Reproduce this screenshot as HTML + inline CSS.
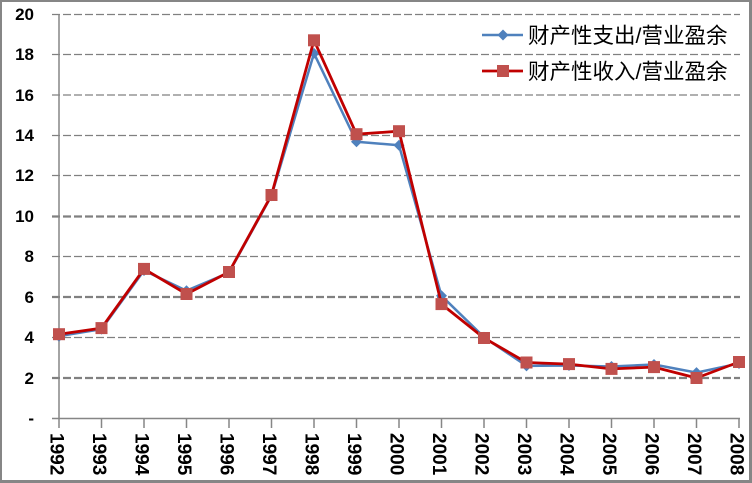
<!DOCTYPE html>
<html><head><meta charset="utf-8"><style>
html,body{margin:0;padding:0;background:#fff;}
svg{display:block;}
</style></head><body>
<svg width="752" height="483" viewBox="0 0 752 483" xmlns="http://www.w3.org/2000/svg">
<rect x="0" y="0" width="752" height="483" fill="#fff"/>
<!-- border -->
<rect x="0" y="0" width="752" height="2" fill="#868686"/>
<rect x="0" y="0" width="2" height="483" fill="#868686"/>
<rect x="749" y="0" width="3" height="483" fill="#868686"/>
<rect x="0" y="480" width="752" height="3" fill="#868686"/>

<!-- gridlines -->
<g stroke="#808080" stroke-dasharray="8,3" fill="none">
<line x1="52" y1="14.5" x2="740" y2="14.5" stroke-width="1.3"/>
<line x1="52" y1="54.5" x2="740" y2="54.5" stroke-width="1.3"/>
<line x1="52" y1="95" x2="740" y2="95" stroke-width="1.3"/>
<line x1="52" y1="135.5" x2="740" y2="135.5" stroke-width="1.3"/>
<line x1="52" y1="175.5" x2="740" y2="175.5" stroke-width="1.3"/>
<line x1="52" y1="216.5" x2="740" y2="216.5" stroke-width="2.2"/>
<line x1="52" y1="256.5" x2="740" y2="256.5" stroke-width="1.3"/>
<line x1="52" y1="297" x2="740" y2="297" stroke-width="2.2"/>
<line x1="52" y1="337.5" x2="740" y2="337.5" stroke-width="1.3"/>
<line x1="52" y1="378" x2="740" y2="378" stroke-width="2.2"/>
</g>

<!-- axes -->
<g stroke="#868686" stroke-width="1.5" fill="none">
<line x1="59" y1="14" x2="59" y2="419"/>
<line x1="52" y1="418.5" x2="740" y2="418.5"/>
<path d="M59,418V428M101.5,418V428M144,418V428M186.5,418V428M229,418V428M271.5,418V428M314,418V428M356.5,418V428M399,418V428M441.5,418V428M484,418V428M526.5,418V428M569,418V428M611.5,418V428M654,418V428M696.5,418V428M739,418V428"/>
</g>

<!-- y labels -->
<g font-family="Liberation Sans, sans-serif" font-weight="bold" font-size="17" text-anchor="end" fill="#000">
<text x="34" y="20">20</text>
<text x="34" y="60">18</text>
<text x="34" y="101">16</text>
<text x="34" y="141">14</text>
<text x="34" y="181">12</text>
<text x="34" y="222">10</text>
<text x="34" y="262">8</text>
<text x="34" y="303">6</text>
<text x="34" y="343">4</text>
<text x="34" y="384">2</text>
<text x="34" y="424">-</text>
</g>

<!-- x labels -->
<g font-family="Liberation Sans, sans-serif" font-weight="bold" font-size="19" fill="#000">
<text transform="translate(50.5,433) rotate(90)">1992</text>
<text transform="translate(93,433) rotate(90)">1993</text>
<text transform="translate(135.5,433) rotate(90)">1994</text>
<text transform="translate(178,433) rotate(90)">1995</text>
<text transform="translate(220.5,433) rotate(90)">1996</text>
<text transform="translate(263,433) rotate(90)">1997</text>
<text transform="translate(305.5,433) rotate(90)">1998</text>
<text transform="translate(348,433) rotate(90)">1999</text>
<text transform="translate(390.5,433) rotate(90)">2000</text>
<text transform="translate(433,433) rotate(90)">2001</text>
<text transform="translate(475.5,433) rotate(90)">2002</text>
<text transform="translate(518,433) rotate(90)">2003</text>
<text transform="translate(560.5,433) rotate(90)">2004</text>
<text transform="translate(603,433) rotate(90)">2005</text>
<text transform="translate(645.5,433) rotate(90)">2006</text>
<text transform="translate(688,433) rotate(90)">2007</text>
<text transform="translate(730.5,433) rotate(90)">2008</text>
</g>

<!-- blue series -->
<polyline fill="none" stroke="#4f81bd" stroke-width="2.5" stroke-linejoin="round"
points="59,336.2 101.5,329.1 144,270.5 186.5,290.7 229,272.6 271.5,195.8 314,53.4 356.5,141.7 399,145.3 441.5,295.8 484,337.2 526.5,365.9 569,365.5 611.5,366.5 654,364.5 696.5,372.6 739,363.5"/>
<g fill="#4f81bd">
<path d="M59,330.7l5.5,5.5l-5.5,5.5l-5.5,-5.5z"/>
<path d="M101.5,323.6l5.5,5.5l-5.5,5.5l-5.5,-5.5z"/>
<path d="M144,265l5.5,5.5l-5.5,5.5l-5.5,-5.5z"/>
<path d="M186.5,285.2l5.5,5.5l-5.5,5.5l-5.5,-5.5z"/>
<path d="M229,267.1l5.5,5.5l-5.5,5.5l-5.5,-5.5z"/>
<path d="M271.5,190.3l5.5,5.5l-5.5,5.5l-5.5,-5.5z"/>
<path d="M314,47.9l5.5,5.5l-5.5,5.5l-5.5,-5.5z"/>
<path d="M356.5,136.2l5.5,5.5l-5.5,5.5l-5.5,-5.5z"/>
<path d="M399,139.8l5.5,5.5l-5.5,5.5l-5.5,-5.5z"/>
<path d="M441.5,290.3l5.5,5.5l-5.5,5.5l-5.5,-5.5z"/>
<path d="M484,331.7l5.5,5.5l-5.5,5.5l-5.5,-5.5z"/>
<path d="M526.5,360.4l5.5,5.5l-5.5,5.5l-5.5,-5.5z"/>
<path d="M569,360l5.5,5.5l-5.5,5.5l-5.5,-5.5z"/>
<path d="M611.5,361l5.5,5.5l-5.5,5.5l-5.5,-5.5z"/>
<path d="M654,359l5.5,5.5l-5.5,5.5l-5.5,-5.5z"/>
<path d="M696.5,367.1l5.5,5.5l-5.5,5.5l-5.5,-5.5z"/>
<path d="M739,358l5.5,5.5l-5.5,5.5l-5.5,-5.5z"/>
</g>

<!-- red series -->
<polyline fill="none" stroke="#c00000" stroke-width="2.8" stroke-linejoin="round"
points="59,334.2 101.5,328.1 144,268.9 186.5,294 229,272 271.5,195 314,40.3 356.5,134.2 399,131.2 441.5,304.1 484,338 526.5,362.5 569,364.1 611.5,368.9 654,367.1 696.5,378 739,362"/>
<g fill="#c0504d">
<rect x="53" y="328.2" width="12" height="12"/>
<rect x="95.5" y="322.1" width="12" height="12"/>
<rect x="138" y="262.9" width="12" height="12"/>
<rect x="180.5" y="288" width="12" height="12"/>
<rect x="223" y="266" width="12" height="12"/>
<rect x="265.5" y="189" width="12" height="12"/>
<rect x="308" y="34.3" width="12" height="12"/>
<rect x="350.5" y="128.2" width="12" height="12"/>
<rect x="393" y="125.2" width="12" height="12"/>
<rect x="435.5" y="298.1" width="12" height="12"/>
<rect x="478" y="332" width="12" height="12"/>
<rect x="520.5" y="356.5" width="12" height="12"/>
<rect x="563" y="358.1" width="12" height="12"/>
<rect x="605.5" y="362.9" width="12" height="12"/>
<rect x="648" y="361.1" width="12" height="12"/>
<rect x="690.5" y="372" width="12" height="12"/>
<rect x="733" y="356" width="12" height="12"/>
</g>

<!-- legend -->
<line x1="482" y1="35" x2="523" y2="35" stroke="#4f81bd" stroke-width="2.5"/>
<path d="M503,29.5l5.5,5.5l-5.5,5.5l-5.5,-5.5z" fill="#4f81bd"/>
<line x1="482" y1="71" x2="523" y2="71" stroke="#c00000" stroke-width="2.8"/>
<rect x="497" y="65" width="12" height="12" fill="#c0504d"/>
<g font-family="Liberation Sans, 'Noto Sans CJK SC', sans-serif" font-size="21.5" fill="#000">
<text x="528" y="43">财产性支出/营业盈余</text>
<text x="528" y="79">财产性收入/营业盈余</text>
</g>
</svg>
</body></html>
